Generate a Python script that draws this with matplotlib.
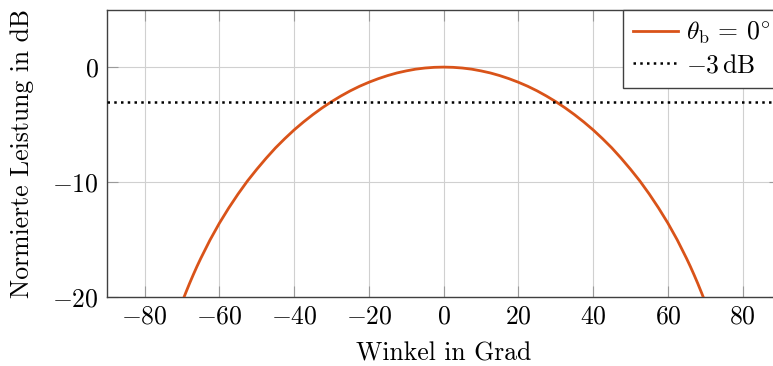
import matplotlib
matplotlib.use("Agg")
import matplotlib.pyplot as plt

# Normalised power pattern (dB) over steering angle, right half (symmetric)
half_angles_deg = [0, 2.5, 5, 7.5, 10, 12.5, 15, 17.5, 20, 22.5, 25, 27.5, 30, 32.5,
                   35, 37.5, 40, 42.5, 45, 47.5, 50, 52.5, 55, 57.5, 60, 62.5, 65,
                   66, 67, 68, 69, 70]
half_power_db = [0.0, -0.02, -0.08, -0.18, -0.33, -0.51, -0.74, -1.01, -1.32, -1.67,
                 -2.07, -2.52, -3.01, -3.55, -4.14, -4.78, -5.47, -6.23, -7.04, -7.94,
                 -8.90, -9.92, -11.05, -12.27, -13.59, -15.05, -16.67, -17.36, -18.09,
                 -18.85, -19.65, -20.48]
angles_deg = [-a for a in half_angles_deg[:0:-1]] + half_angles_deg
power_db = half_power_db[:0:-1] + half_power_db
ref_level_db = -3

x_ticks = [-80, -60, -40, -20, 0, 20, 40, 60, 80]
y_ticks = [-20, -10, 0]
x_limits = (-90, 90)
y_limits = (-20, 5)

series_label = r"$\theta_{\mathrm{b}} \,=\, 0^{\circ}$"
ref_label = r"$-3\,\mathrm{dB}$"
x_label = "Winkel in Grad"
y_label = "Normierte Leistung in dB"

plt.rcParams["mathtext.fontset"] = "cm"
plt.rcParams["font.family"] = ["cmr10", "DejaVu Serif"]
plt.rcParams["axes.unicode_minus"] = False

W, H, DPI = 773, 366, 100
fig = plt.figure(figsize=(W / DPI, H / DPI), dpi=DPI)
left, right, top, bottom = 107.3, 780.0, 9.7, 296.7
ax = fig.add_axes([left / W, 1 - bottom / H, (right - left) / W, (bottom - top) / H])

fs = 18.5

ax.plot(angles_deg, power_db, color="#D95319", lw=2.0, label=series_label,
        solid_joinstyle="round", zorder=3)
ax.axhline(ref_level_db, color="black", lw=1.8, linestyle=(0, (1, 1.7)),
           label=ref_label, zorder=3)

ax.set_xlim(*x_limits)
ax.set_ylim(*y_limits)
ax.set_xticks(x_ticks)
ax.set_yticks(y_ticks)
ax.set_xticklabels([f"${v}$" for v in x_ticks], fontsize=fs)
ax.set_yticklabels([f"${v}$" for v in y_ticks], fontsize=fs)

ax.grid(True, color="#d0d0d0", lw=0.8)
ax.set_axisbelow(True)
ax.tick_params(direction="in", length=8, width=0.8, color="#9a9a9a",
               top=True, right=True, pad=6)
for s in ax.spines.values():
    s.set_color("#404040")
    s.set_linewidth(1.0)

ax.set_xlabel(x_label, fontsize=fs, labelpad=9)
ax.set_ylabel(y_label, fontsize=fs, labelpad=13)

leg = ax.legend(loc="upper right", bbox_to_anchor=(1, 1), borderaxespad=0,
                fontsize=fs, frameon=True, fancybox=False, framealpha=1,
                edgecolor="#404040", handlelength=1.75, handletextpad=0.28,
                borderpad=0.4, labelspacing=0.28)
leg.get_frame().set_linewidth(1.0)

fig.savefig("out.png", dpi=DPI)
